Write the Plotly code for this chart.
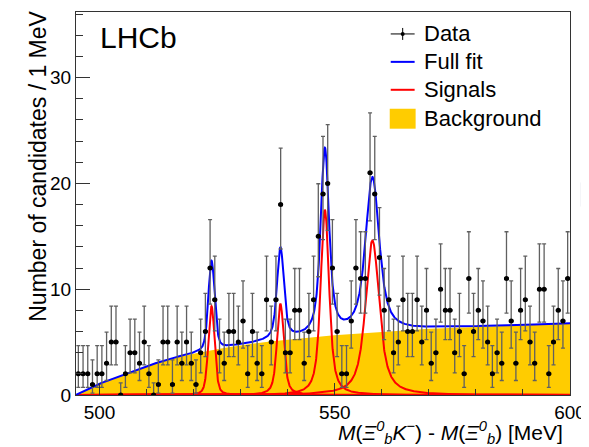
import numpy as np
import plotly.graph_objects as go

# ---------------- data ----------------
bin_low = 495.0          # first bin lower edge [MeV]
bin_width = 1.0          # MeV
counts = [2, 2, 2, 1, 2, 2, 3, 5, 5, 0, 2, 4, 4, 3, 5, 2, 0, 1, 5,
          5, 1, 5, 3, 5, 3, 1, 4, 6, 12, 9, 4, 3, 6, 6, 5, 7, 2, 6, 3, 2,
          9, 5, 9, 18, 4, 4, 8, 8, 3, 6, 9, 15, 19, 20, 12, 6, 2, 2, 7, 12,
          11, 11, 21, 19, 13, 8, 9, 4, 5, 9, 6, 6, 9, 5, 8, 3, 4, 10, 8, 8,
          4, 6, 2, 11, 6, 8, 7, 5, 2, 4, 3, 11, 7, 3, 8, 9, 5, 3, 10, 10, 2, 5, 8, 7, 11]

# background component, read at a few masses
bkg_mass = [495, 500, 505, 510, 515, 520, 525, 530, 535, 540, 545, 550, 560, 570, 580, 590, 600]
bkg_level = [0, 1.05, 1.9, 2.7, 3.4, 3.9, 4.35, 4.7, 5.0, 5.25, 5.45, 5.65, 5.95, 6.25, 6.45, 6.6, 6.75]

# four signal peaks (positions, peak heights, natural widths, resolutions)
peak_mass = [523.8, 538.45, 547.9, 558.0]
peak_height = [8.4, 8.6, 17.5, 14.6]
peak_gamma = [0.5, 0.9, 1.3, 2.4]
peak_sigma = [0.55, 0.5, 0.55, 0.8]

x_tick_vals = [500, 550, 600]
y_tick_vals = [0, 10, 20, 30]
legend_labels = ["Data", "Full fit", "Signals", "Background"]

# ---------------- derived ----------------
n = np.array(counts, dtype=float)
centers = bin_low + bin_width * (np.arange(len(counts)) + 0.5)
err_up = np.where(n > 0, 1 + np.sqrt(n + 0.75), 1.148)
low = np.where(n > 0, n * (1 - 1 / (9 * np.maximum(n, 1)) - 1 / (3 * np.sqrt(np.maximum(n, 1)))) ** 3, 0)
err_lo = n - low

xf = np.linspace(495, 600, 2101)
bkg = np.interp(xf, bkg_mass, bkg_level)


def voigt_peak(x, m, gamma, sigma, h):
    t = np.linspace(-6 * sigma, 6 * sigma, 241)
    g = np.exp(-0.5 * (t / sigma) ** 2)

    def prof(xx):
        L = 1.0 / (1.0 + ((xx[:, None] - m - t[None, :]) / (gamma / 2)) ** 2)
        return (L * g).sum(1)
    return h * prof(x) / prof(np.array([m]))[0]


signals = [voigt_peak(xf, m, gm, sg, h) for m, gm, sg, h in zip(peak_mass, peak_gamma, peak_sigma, peak_height)]
full = bkg + np.sum(signals, axis=0)

FONT = "Liberation Sans"
BLUE, RED, YELLOW = "#0000FF", "#FF0000", "#FFCC00"
fig = go.Figure()

fig.add_trace(go.Scatter(x=xf, y=bkg, mode="lines", line=dict(width=0), fill="tozeroy",
                         fillcolor=YELLOW, name="Background"))
for i, s in enumerate(signals):
    fig.add_trace(go.Scatter(x=xf, y=s, mode="lines", line=dict(color=RED, width=2), name="Signals"))
fig.add_trace(go.Scatter(x=xf, y=full, mode="lines", line=dict(color=BLUE, width=2), name="Full fit"))
fig.add_trace(go.Scatter(
    x=centers, y=counts, mode="markers", name="Data",
    marker=dict(color="black", size=5),
    error_y=dict(type="data", symmetric=False, array=err_up, arrayminus=err_lo,
                 color="#606060", thickness=1.3, width=2),
    error_x=dict(type="constant", value=bin_width / 2, color="black", thickness=2.5, width=0)))

# page has an 8px body margin: figure is 581x439, plot area spans page x 76..572, y 11..395
W, H = 581, 439
ML, MR, MT, MB = 68, 17, 3, 52
fig.update_layout(
    width=W, height=H,
    margin=dict(l=ML, r=MR, t=MT, b=MB),
    paper_bgcolor="white", plot_bgcolor="white",
    font=dict(family=FONT, color="black"),
    showlegend=False,
)
fig.update_xaxes(range=[495, 600], tickmode="array", tickvals=x_tick_vals,
                 ticks="inside", ticklen=12, tickcolor="#333", showline=True, linecolor="#333",
                 linewidth=1, mirror=True, showgrid=False, zeroline=False,
                 tickfont=dict(size=19, family=FONT, color="black"),
                 minor=dict(ticks="inside", ticklen=6, dtick=10, tick0=500, tickcolor="#333", showgrid=False))
fig.update_yaxes(range=[0, 36.2], tickmode="array", tickvals=y_tick_vals,
                 ticks="inside", ticklen=14, tickcolor="#333", showline=True, linecolor="#333",
                 linewidth=1, mirror=True, showgrid=False, zeroline=False,
                 tickfont=dict(size=19, family=FONT, color="black"),
                 minor=dict(ticks="inside", ticklen=7, dtick=2, tick0=0, tickcolor="#333", showgrid=False))

PW, PH = W - ML - MR, H - MT - MB


def px(xp):   # page x pixel -> paper x
    return (xp - 8 - ML) / PW


def py(yp):   # page y pixel -> paper y
    return 1 - (yp - 8 - MT) / PH


fig.add_annotation(text="LHCb", xref="paper", yref="paper", x=px(98), y=py(37),
                   xanchor="left", yanchor="middle", showarrow=False,
                   font=dict(size=30, family=FONT, color="black"))
fig.add_annotation(text="Number of candidates / 1 MeV", xref="paper", yref="paper",
                   x=px(37), y=py(166), xanchor="center", yanchor="middle", textangle=-90,
                   showarrow=False, font=dict(size=23, family=FONT, color="black"))
fig.add_annotation(text="<i>M</i>(<i>Ξ</i><sup><i>0</i></sup><sub><i>b</i></sub><i>K</i><sup>−</sup>) - "
                        "<i>M</i>(<i>Ξ</i><sup><i>0</i></sup><sub><i>b</i></sub>) [MeV]",
                   xref="paper", yref="paper", x=px(567), y=py(433), xanchor="right", yanchor="middle",
                   showarrow=False, font=dict(size=21, family=FONT, color="black"))

# legend drawn by hand (ROOT style): symbols at x 392..416, text from x 423
leg_y = [33, 61, 89, 118]
sym_x0, sym_x1, text_x = 392, 416, 423
for lab, yy in zip(legend_labels, leg_y):
    fig.add_annotation(text=lab, xref="paper", yref="paper", x=px(text_x), y=py(yy),
                       xanchor="left", yanchor="middle", showarrow=False,
                       font=dict(size=22, family=FONT, color="black"))
# Data: cross with dot
fig.add_shape(type="line", xref="paper", yref="paper", x0=px(sym_x0), x1=px(sym_x1),
              y0=py(leg_y[0]), y1=py(leg_y[0]), line=dict(color="black", width=1))
fig.add_shape(type="line", xref="paper", yref="paper", x0=px(404), x1=px(404),
              y0=py(leg_y[0] - 6), y1=py(leg_y[0] + 6), line=dict(color="black", width=1))
fig.add_shape(type="circle", xref="paper", yref="paper", x0=px(402), x1=px(406),
              y0=py(leg_y[0] - 2), y1=py(leg_y[0] + 2), fillcolor="black", line=dict(width=0))
fig.add_shape(type="line", xref="paper", yref="paper", x0=px(sym_x0), x1=px(sym_x1),
              y0=py(leg_y[1]), y1=py(leg_y[1]), line=dict(color=BLUE, width=2))
fig.add_shape(type="line", xref="paper", yref="paper", x0=px(sym_x0), x1=px(sym_x1),
              y0=py(leg_y[2]), y1=py(leg_y[2]), line=dict(color=RED, width=2))
fig.add_shape(type="rect", xref="paper", yref="paper", x0=px(391), x1=px(417),
              y0=py(leg_y[3] - 10), y1=py(leg_y[3] + 10), fillcolor=YELLOW, line=dict(width=0))

# cropped fragment at the right edge of the reference
fig.add_shape(type="rect", xref="paper", yref="paper", x0=px(583), x1=px(590),
              y0=py(182), y1=py(206), fillcolor="#1F3864", line=dict(width=0))

fig.write_html("out.html")
